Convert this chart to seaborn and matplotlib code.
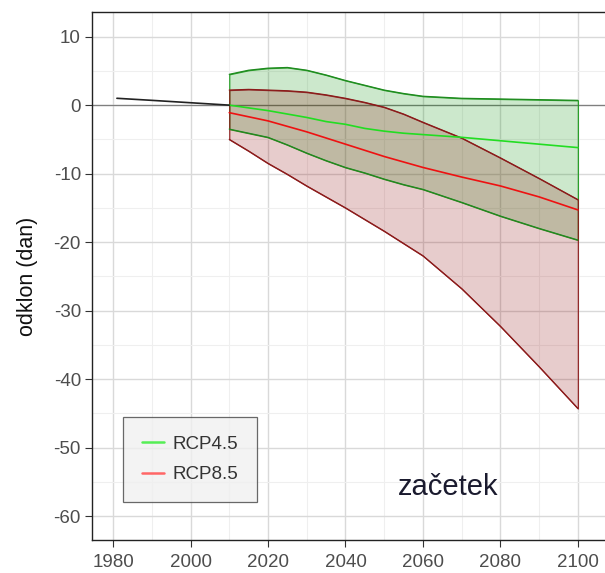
import matplotlib
matplotlib.use("Agg")
import matplotlib.pyplot as plt
import seaborn as sns
import numpy as np
import pandas as pd
from matplotlib.lines import Line2D

# ---- data ----
hist_years = [1981, 1990, 2000, 2010]
hist_vals = [1.0, 0.7, 0.35, 0.0]

years = [2010, 2015, 2020, 2025, 2030, 2035, 2040, 2045, 2050, 2055, 2060, 2070, 2080, 2090, 2100]
rcp45_upper = [4.5, 5.1, 5.4, 5.5, 5.1, 4.4, 3.6, 2.9, 2.2, 1.7, 1.3, 1.0, 0.9, 0.8, 0.7]
rcp45_median = [0.0, -0.4, -0.8, -1.3, -1.8, -2.4, -2.8, -3.4, -3.8, -4.1, -4.3, -4.7, -5.2, -5.7, -6.2]
rcp45_lower = [-3.5, -4.1, -4.7, -5.8, -7.0, -8.1, -9.1, -9.9, -10.8, -11.6, -12.3, -14.2, -16.2, -18.0, -19.7]

rcp85_upper = [2.2, 2.3, 2.2, 2.1, 1.9, 1.5, 1.0, 0.4, -0.3, -1.3, -2.5, -4.8, -7.7, -10.7, -13.8]
rcp85_median = [-1.1, -1.7, -2.3, -3.1, -3.9, -4.8, -5.7, -6.6, -7.5, -8.3, -9.1, -10.5, -11.8, -13.4, -15.3]
rcp85_lower = [-5.0, -6.7, -8.5, -10.1, -11.8, -13.4, -15.0, -16.7, -18.4, -20.2, -22.0, -26.8, -32.3, -38.2, -44.3]

legend_labels = ["RCP4.5", "RCP8.5"]
annotation = "začetek"
ylabel = "odklon (dan)"
xticks = [1980, 2000, 2020, 2040, 2060, 2080, 2100]
yticks = [10, 0, -10, -20, -30, -40, -50, -60]

# ---- style ----
sns.set_style("white")
plt.rcParams['font.family'] = ['Liberation Sans', 'DejaVu Sans']

fig = plt.figure(figsize=(6.05, 5.73), dpi=100)
ax = fig.add_axes([92/605, 33/573, (605-92)/605, (540-12)/573])

# grid
ax.set_xticks(np.arange(1970, 2111, 10), minor=True)
ax.set_yticks(np.arange(-65, 15, 5), minor=True)
ax.grid(True, which="major", color="#d9d9d9", linewidth=1.0, zorder=0)
ax.grid(True, which="minor", color="#efefef", linewidth=0.8, zorder=0)
ax.set_axisbelow(True)

ax.axhline(0, color="#7f7f7f", linewidth=0.9, zorder=1)

df = pd.DataFrame({"year": years,
                   "u45": rcp45_upper, "m45": rcp45_median, "l45": rcp45_lower,
                   "u85": rcp85_upper, "m85": rcp85_median, "l85": rcp85_lower})
hist = pd.DataFrame({"year": hist_years, "val": hist_vals})

# bands
green_dark = "#1f8a1f"
red_dark = "#8b1a1a"
ax.fill_between(df["year"], df["l45"], df["u45"], facecolor=(0, 0.55, 0, 0.2),
                edgecolor=(0.1, 0.6, 0.1, 0.9), linewidth=0.9, zorder=2)
ax.fill_between(df["year"], df["l85"], df["u85"], facecolor=(0.545, 0, 0, 0.2),
                edgecolor=(0.545, 0.1, 0.1, 0.9), linewidth=0.9, zorder=3)

# band bounds
for col, c in [("u45", green_dark), ("l45", green_dark), ("u85", red_dark), ("l85", red_dark)]:
    sns.lineplot(data=df, x="year", y=col, color=c, linewidth=0.9, ax=ax, zorder=4)

sns.lineplot(data=df, x="year", y="m45", color="#22dd22", linewidth=1.2, ax=ax, zorder=5)
sns.lineplot(data=df, x="year", y="m85", color="#ee1111", linewidth=1.2, ax=ax, zorder=5)
sns.lineplot(data=hist, x="year", y="val", color="#222222", linewidth=1.2, ax=ax, zorder=5)

ax.set_xlim(1974.57, 2107)
ax.set_ylim(-63.5, 13.6)
ax.set_xticks(xticks)
ax.set_yticks(yticks)
ax.set_xticklabels([str(t) for t in xticks], fontsize=13.5, color="#4d4d4d")
ax.set_yticklabels([str(t) for t in yticks], fontsize=13.5, color="#4d4d4d")
ax.tick_params(axis="both", which="major", length=5, width=0.8, color="#333333", direction="out",
               bottom=True, left=True, pad=3)
ax.tick_params(axis="x", which="major", pad=5)
ax.tick_params(axis="both", which="minor", length=0)
ax.set_xlabel("")
ax.set_ylabel(ylabel, fontsize=15.5, color="#111111", labelpad=11)

for s in ["left", "bottom", "top"]:
    ax.spines[s].set_color("#222222")
    ax.spines[s].set_linewidth(1.0)
ax.spines["right"].set_visible(False)

handles = [Line2D([0], [0], color="#55ee55", linewidth=1.8),
           Line2D([0], [0], color="#ff6666", linewidth=1.8)]
leg = ax.legend(handles, legend_labels, loc="lower left", bbox_to_anchor=(0.06, 0.072),
                fontsize=13.5, frameon=True, fancybox=False, handlelength=1.2,
                borderpad=1.0, labelspacing=0.72, handletextpad=0.45, borderaxespad=0)
leg.get_frame().set_facecolor("#f0f0f0")
leg.get_frame().set_edgecolor("#444444")
leg.get_frame().set_linewidth(0.9)
for t in leg.get_texts():
    t.set_color("#333333")

ax.text(2066.5, -57.0, annotation, fontsize=21, color="#1a1a2e", ha="center", va="baseline")

fig.savefig("out.png", dpi=100)
